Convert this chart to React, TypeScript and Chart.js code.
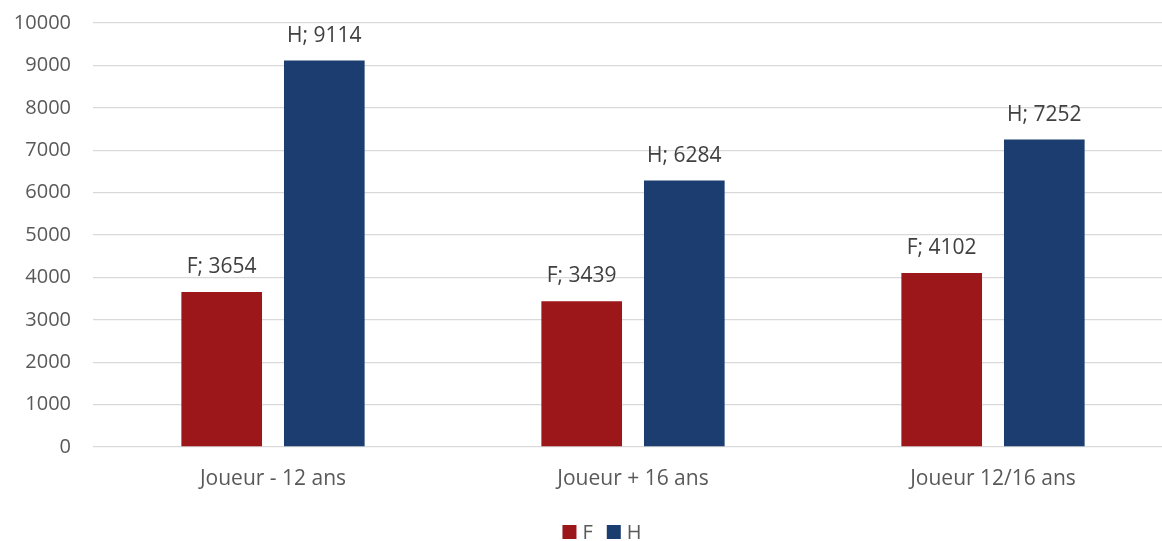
import React, { useEffect, useRef } from "react";
import { Chart, registerables } from "chart.js";

Chart.register(...registerables);

const categories = ["Joueur - 12 ans", "Joueur + 16 ans", "Joueur 12/16 ans"];
const seriesF = [3654, 3439, 4102];
const seriesH = [9114, 6284, 7252];
const seriesNames = ["F", "H"];
const seriesColors = ["#9B1719", "#1B3D6F"];

const FONT = "'Open Sans', sans-serif";
const TEXT = "#595959";

const labelPlugin = {
  id: "barLabels",
  afterDatasetsDraw(chart: any) {
    const ctx = chart.ctx;
    ctx.save();
    ctx.font = `21px ${FONT}`;
    ctx.fillStyle = "#404040";
    ctx.textAlign = "center";
    ctx.textBaseline = "alphabetic";
    chart.data.datasets.forEach((ds: any, di: number) => {
      const meta = chart.getDatasetMeta(di);
      meta.data.forEach((bar: any, i: number) => {
        ctx.fillText(`${ds.label}; ${ds.data[i]}`, bar.x, bar.y - 19);
      });
    });
    ctx.restore();
  },
};

const legendPlugin = {
  id: "customLegend",
  afterDraw(chart: any) {
    const ctx = chart.ctx;
    ctx.save();
    ctx.font = `20px ${FONT}`;
    const box = 14;
    const gapText = 6;
    const gapItem = 14;
    const items = chart.data.datasets.map((ds: any) => ({
      label: ds.label,
      color: ds.backgroundColor,
      w: box + gapText + ctx.measureText(ds.label).width,
    }));
    const total = items.reduce((s: number, it: any) => s + it.w, 0) + gapItem * (items.length - 1);
    let x = 602 - total / 2;
    const cy = 532;
    items.forEach((it: any) => {
      ctx.fillStyle = it.color;
      ctx.fillRect(x, cy - box / 2, box, box);
      ctx.fillStyle = TEXT;
      ctx.textAlign = "left";
      ctx.textBaseline = "middle";
      ctx.fillText(it.label, x + box + gapText, cy + 1);
      x += it.w + gapItem;
    });
    ctx.restore();
  },
};

export default function App() {
  const ref = useRef<HTMLCanvasElement>(null);
  useEffect(() => {
    if (!ref.current) return;
    const chart = new Chart(ref.current, {
      type: "bar",
      data: {
        labels: categories,
        datasets: [
          { label: seriesNames[0], data: seriesF, backgroundColor: seriesColors[0] },
          { label: seriesNames[1], data: seriesH, backgroundColor: seriesColors[1] },
        ],
      },
      options: {
        animation: false,
        responsive: false,
        maintainAspectRatio: false,
        layout: { padding: { top: 23, left: 0, right: 0, bottom: 0 } },
        datasets: { bar: { categoryPercentage: 0.57, barPercentage: 0.786 } },
        scales: {
          x: {
            grid: { display: false },
            border: { display: false },
            ticks: { color: TEXT, font: { size: 21, family: FONT }, padding: 11 },
            afterFit(scale: any) {
              scale.height = 94;
              scale.paddingLeft = 0;
              scale.paddingRight = 0;
            },
          },
          y: {
            min: 0,
            max: 10000,
            ticks: {
              stepSize: 1000,
              color: TEXT,
              font: { size: 20, family: FONT },
              padding: 22,
              callback: (v: any) => String(v),
            },
            grid: { color: "#D9D9D9", lineWidth: 1.3, drawTicks: false },
            border: { display: false },
            afterFit(scale: any) {
              scale.width = 93;
              scale.paddingTop = 0;
              scale.paddingBottom = 0;
            },
          },
        },
        plugins: {
          legend: { display: false },
          tooltip: { enabled: false },
        },
      },
      plugins: [labelPlugin, legendPlugin],
    });
    return () => chart.destroy();
  }, []);
  return (
    <div style={{ position: "fixed", left: 0, top: 0, width: 1173, height: 541, background: "#fff" }}>
      <canvas ref={ref} width={1173} height={541} style={{ width: 1173, height: 541 }} />
    </div>
  );
}
